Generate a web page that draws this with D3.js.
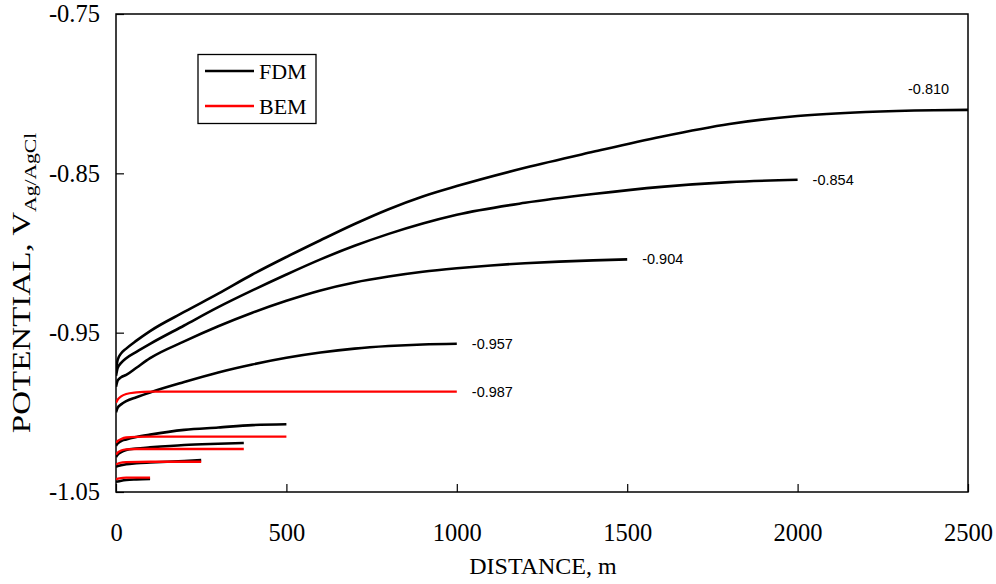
<!DOCTYPE html>
<html><head><meta charset="utf-8">
<script src="https://cdn.jsdelivr.net/npm/d3@7"></script>
<style>
body{margin:0;background:#fff;}
svg{display:block;}
</style></head>
<body>
<svg id="c" width="996" height="584"></svg>
<script>
// ---- data ----
const xTicks = [0, 500, 1000, 1500, 2000, 2500];
const yTicks = [-0.75, -0.85, -0.95, -1.05];
const yTickLabels = ["-0.75", "-0.85", "-0.95", "-1.05"];

// FDM series (black)
const fdm2500_x = [0, 5, 15, 30, 60, 100, 200, 300, 400, 500, 600, 700, 800, 900, 1000, 1200, 1400, 1600, 1800, 2000, 2200, 2400, 2500];
const fdm2500_y = [-0.973, -0.967, -0.963, -0.960, -0.955, -0.949, -0.937, -0.9255, -0.9135, -0.9025, -0.892, -0.8818, -0.8725, -0.8645, -0.858, -0.8465, -0.8365, -0.827, -0.819, -0.814, -0.8115, -0.8104, -0.8102];
const fdm2000_x = [0, 5, 15, 30, 60, 100, 200, 300, 400, 500, 600, 700, 800, 900, 1000, 1200, 1400, 1600, 1800, 2000];
const fdm2000_y = [-0.977, -0.972, -0.969, -0.966, -0.962, -0.957, -0.9455, -0.934, -0.9235, -0.9135, -0.904, -0.8955, -0.888, -0.8815, -0.876, -0.8685, -0.863, -0.8585, -0.8555, -0.854];
const fdm1500_x = [0, 5, 15, 30, 60, 100, 200, 300, 400, 500, 600, 700, 800, 900, 1000, 1100, 1200, 1300, 1400, 1500];
const fdm1500_y = [-0.984, -0.980, -0.978, -0.9765, -0.972, -0.966, -0.9555, -0.946, -0.9375, -0.930, -0.9235, -0.9185, -0.9148, -0.9118, -0.9096, -0.9078, -0.9064, -0.9054, -0.9046, -0.904];
const fdm1000_x = [0, 5, 15, 30, 60, 100, 200, 300, 400, 500, 600, 700, 800, 900, 1000];
const fdm1000_y = [-1.000, -0.997, -0.995, -0.993, -0.9905, -0.9875, -0.981, -0.975, -0.970, -0.9658, -0.9625, -0.960, -0.9584, -0.9574, -0.957];
const fdm500_x = [0, 5, 15, 30, 60, 100, 200, 300, 400, 500];
const fdm500_y = [-1.021, -1.0195, -1.018, -1.017, -1.0155, -1.014, -1.011, -1.0095, -1.008, -1.0075];
const fdm375_x = [0, 5, 15, 30, 60, 100, 200, 300, 375];
const fdm375_y = [-1.028, -1.0265, -1.025, -1.0237, -1.0227, -1.022, -1.0205, -1.0197, -1.0192];
const fdm250_x = [0, 5, 15, 30, 60, 100, 200, 250];
const fdm250_y = [-1.0342, -1.0337, -1.0332, -1.0326, -1.032, -1.0315, -1.0305, -1.030];
const fdm100_x = [0, 10, 30, 60, 100];
const fdm100_y = [-1.0436, -1.0432, -1.0425, -1.0421, -1.0418];

// BEM series (red)
const bem1000_x = [0, 5, 15, 30, 60, 100, 250, 500, 750, 1000];
const bem1000_y = [-0.994, -0.992, -0.990, -0.9885, -0.9875, -0.987, -0.987, -0.987, -0.987, -0.987];
const bem500_x = [0, 5, 15, 30, 60, 100, 250, 500];
const bem500_y = [-1.019, -1.018, -1.0168, -1.0158, -1.0154, -1.0153, -1.0153, -1.0153];
const bem375_x = [0, 5, 15, 30, 60, 100, 250, 375];
const bem375_y = [-1.0265, -1.0253, -1.024, -1.0232, -1.023, -1.023, -1.023, -1.023];
const bem250_x = [0, 10, 30, 100, 250];
const bem250_y = [-1.0328, -1.0318, -1.0312, -1.031, -1.031];
const bem100_x = [0, 10, 30, 60, 100];
const bem100_y = [-1.042, -1.0414, -1.041, -1.041, -1.041];

// end-value annotations
const annoText = ["-0.810", "-0.854", "-0.904", "-0.957", "-0.987"];
const annoX = [2500, 2000, 1500, 1000, 1000];
const annoY = [-0.810, -0.854, -0.904, -0.957, -0.987];

const legendNames = ["FDM", "BEM"];
const legendColors = ["#000000", "#ff0000"];

// ---- drawing ----
const svg = d3.select("#c");
const L = 116, T = 14, R = 968, B = 492;
const x = d3.scaleLinear().domain([0, 2500]).range([L, R]);
const y = d3.scaleLinear().domain([-1.05, -0.75]).range([B, T]);

const serif = "'Liberation Serif','Times New Roman',Times,serif";
const sans = "'Liberation Sans',Arial,Helvetica,sans-serif";

// frame
svg.append("rect").attr("x", L).attr("y", T).attr("width", R - L).attr("height", B - T)
  .attr("fill", "none").attr("stroke", "#000").attr("stroke-width", 1.5);

// axes with inward ticks
const xAxis = d3.axisBottom(x).tickValues(xTicks).tickSizeInner(-8).tickSizeOuter(0).tickPadding(32).tickFormat(d3.format("d"));
const gx = svg.append("g").attr("transform", `translate(0,${B})`).call(xAxis);
gx.select(".domain").remove();
gx.selectAll("text").attr("font-family", serif).attr("font-size", 24.5).attr("fill", "#000");
gx.selectAll("line").attr("stroke", "#000").attr("stroke-width", 1.2);

const yAxis = d3.axisLeft(y).tickValues(yTicks).tickSizeInner(-8).tickSizeOuter(0).tickPadding(16)
  .tickFormat((d, i) => yTickLabels[i]);
const gy = svg.append("g").attr("transform", `translate(${L},0)`).call(yAxis);
gy.select(".domain").remove();
gy.selectAll("text").attr("font-family", serif).attr("font-size", 24.5).attr("fill", "#000");
gy.selectAll("line").attr("stroke", "#000").attr("stroke-width", 1.2);

// axis titles
svg.append("text").attr("x", 543).attr("y", 574).attr("text-anchor", "middle")
  .attr("font-family", serif).attr("font-size", 24).text("DISTANCE, m");
const yt = svg.append("text").attr("transform", `translate(30,283) rotate(-90) scale(1.27,1)`)
  .attr("text-anchor", "middle").attr("font-family", serif).attr("font-size", 26);
yt.append("tspan").text("POTENTIAL, V");
yt.append("tspan").attr("font-size", 17).attr("dy", 6).text("Ag/AgCl");

// lines
const line = d3.line().x(d => x(d[0])).y(d => y(d[1])).curve(d3.curveMonotoneX);
const fdm = [[fdm2500_x, fdm2500_y], [fdm2000_x, fdm2000_y], [fdm1500_x, fdm1500_y], [fdm1000_x, fdm1000_y],
  [fdm500_x, fdm500_y], [fdm375_x, fdm375_y], [fdm250_x, fdm250_y], [fdm100_x, fdm100_y]];
const bem = [[bem1000_x, bem1000_y], [bem500_x, bem500_y], [bem375_x, bem375_y], [bem250_x, bem250_y], [bem100_x, bem100_y]];
svg.append("clipPath").attr("id", "pc").append("rect").attr("x", L).attr("y", T).attr("width", R - L).attr("height", B - T);
const plot = svg.append("g").attr("clip-path", "url(#pc)");
fdm.forEach(([xs, ys]) => {
  plot.append("path").datum(xs.map((v, i) => [v, ys[i]])).attr("d", line)
    .attr("fill", "none").attr("stroke", legendColors[0]).attr("stroke-width", 2.6);
});
bem.forEach(([xs, ys]) => {
  plot.append("path").datum(xs.map((v, i) => [v, ys[i]])).attr("d", line)
    .attr("fill", "none").attr("stroke", legendColors[1]).attr("stroke-width", 2.3);
});

// annotations
annoText.forEach((t, i) => {
  const first = i === 0;
  svg.append("text")
    .attr("x", first ? x(annoX[i]) - 60 : x(annoX[i]) + 15)
    .attr("y", first ? y(annoY[i]) - 16 : y(annoY[i]) + 5)
    .attr("font-family", sans).attr("font-size", 14.5).attr("fill", "#000").text(t);
});

// legend
svg.append("rect").attr("x", 198).attr("y", 54.5).attr("width", 118).attr("height", 69)
  .attr("fill", "#fff").attr("stroke", "#000").attr("stroke-width", 1.3);
legendNames.forEach((n, i) => {
  const ly = 71 + i * 35;
  svg.append("line").attr("x1", 205).attr("x2", 254).attr("y1", ly).attr("y2", ly)
    .attr("stroke", legendColors[i]).attr("stroke-width", 2.3);
  svg.append("text").attr("x", 259).attr("y", ly + 8).attr("font-family", serif).attr("font-size", 22).text(n);
});
</script>
</body></html>
